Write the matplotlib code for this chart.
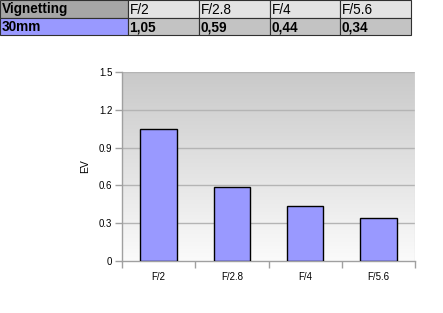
import matplotlib
matplotlib.use("Agg")
import matplotlib.pyplot as plt
import numpy as np
from matplotlib.patches import Rectangle

table_title = "Vignetting"
series_label = "30mm"
categories = ["F/2", "F/2.8", "F/4", "F/5.6"]
values = [1.05, 0.59, 0.44, 0.34]
value_labels = ["1,05", "0,59", "0,44", "0,34"]
yticks = [0, 0.3, 0.6, 0.9, 1.2, 1.5]
ytick_labels = ["0", "0.3", "0.6", "0.9", "1.2", "1.5"]

plt.rcParams['font.family'] = ['Liberation Sans', 'DejaVu Sans']

W, H = 443, 313
fig = plt.figure(figsize=(W / 100, H / 100), dpi=100)

# ---- table at top ----
col_edges = [0, 128, 199, 270, 340, 411]
row_edges = [0, 18, 35]

def fx(x):
    return x / W

def fy(y):
    return 1 - y / H

header_cells = [table_title] + categories
row_cells = [series_label] + value_labels
header_colors = ["#a6a6a6"] + ["#e3e3e3"] * len(categories)
row_colors = ["#9999ff"] + ["#c3c3c3"] * len(categories)
for r, (cells, colors) in enumerate([(header_cells, header_colors), (row_cells, row_colors)]):
    for c, (txt, col) in enumerate(zip(cells, colors)):
        x0, x1 = col_edges[c], col_edges[c + 1]
        y0, y1 = row_edges[r], row_edges[r + 1]
        fig.patches.append(Rectangle((fx(x0), fy(y1)), fx(x1 - x0), (y1 - y0) / H,
                                     transform=fig.transFigure, facecolor=col,
                                     edgecolor="#303030", linewidth=0.8))
        bold = not (r == 0 and c > 0)
        fig.text(fx(x0 + 1.5), fy((y0 + y1) / 2 + 0.5), txt, ha="left", va="center",
                 fontsize=9.8, fontweight="bold" if bold else "normal", color="black")

# ---- chart ----
left, right, top, bottom = 122, 415, 72, 261
ax = fig.add_axes([fx(left), fy(bottom), fx(right - left), (bottom - top) / H])

x = np.arange(len(categories))
ax.set_xlim(-0.5, len(categories) - 0.5)
ax.set_ylim(0, 1.5)

grad = np.linspace(0, 1, 256).reshape(-1, 1)
ax.imshow(grad, extent=(-0.5, len(categories) - 0.5, 0, 1.5), aspect="auto",
          cmap=matplotlib.colors.LinearSegmentedColormap.from_list("g", ["#fbfbfb", "#c9c9c9"]),
          origin="lower", zorder=0)

for yv in yticks[1:]:
    ax.axhline(yv, color="#b4b4b4", linewidth=1, zorder=1)

ax.bar(x, values, width=0.5, color="#9999ff", edgecolor="black", linewidth=1, zorder=3)

ax.set_yticks(yticks)
ax.set_yticklabels(ytick_labels)
ax.set_xticks(x)
ax.set_xticklabels(categories)
ax.set_xticks(np.arange(-0.5, len(categories)), minor=True)
ax.tick_params(axis="x", which="major", length=0, pad=8, labelsize=7)
ax.tick_params(axis="x", which="minor", length=5, color="#a0a0a0", width=1)
ax.tick_params(axis="y", length=5, color="#a0a0a0", width=1, labelsize=7, pad=2)

for s in ["top", "right"]:
    ax.spines[s].set_visible(False)
for s in ["left", "bottom"]:
    ax.spines[s].set_color("#a0a0a0")
    ax.spines[s].set_linewidth(1)
ax.axvline(len(categories) - 0.5, color="#e0e0e0", linewidth=1, zorder=2)

ax.set_ylabel("EV", fontsize=7.5, labelpad=6)

fig.savefig("out.png", dpi=100)
